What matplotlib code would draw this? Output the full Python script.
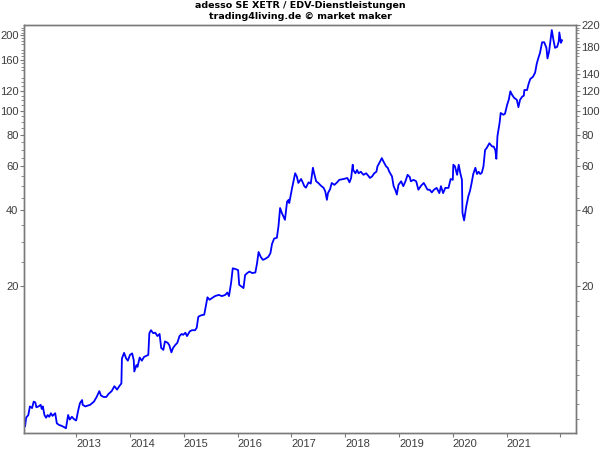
#!/usr/bin/env python3

from __future__ import annotations

import matplotlib

matplotlib.use("Agg")
import matplotlib.pyplot as plt
from matplotlib.ticker import FixedLocator, NullFormatter

TITLE = "adesso SE XETR / EDV-Dienstleistungen\ntrading4living.de \u00a9 market maker"

# decimal year, price
DATES = [
    2012.05, 2012.07, 2012.11, 2012.14, 2012.18, 2012.21, 2012.24, 2012.26, 2012.30, 2012.34,
    2012.36, 2012.38, 2012.41, 2012.44, 2012.47, 2012.50, 2012.53, 2012.56, 2012.61, 2012.64,
    2012.68, 2012.73, 2012.78, 2012.81, 2012.85, 2012.88, 2012.92, 2012.96, 2013.00, 2013.04,
    2013.07, 2013.11, 2013.12, 2013.17, 2013.26, 2013.33, 2013.38, 2013.43, 2013.46, 2013.51,
    2013.56, 2013.60, 2013.66, 2013.71, 2013.76, 2013.80, 2013.84, 2013.85, 2013.89, 2013.93,
    2013.96, 2014.00, 2014.04, 2014.07, 2014.08, 2014.12, 2014.14, 2014.18, 2014.22, 2014.26,
    2014.34, 2014.36, 2014.39, 2014.43, 2014.47, 2014.51, 2014.55, 2014.58, 2014.62, 2014.65,
    2014.70, 2014.73, 2014.77, 2014.80, 2014.84, 2014.88, 2014.92, 2014.96, 2014.99, 2015.03,
    2015.06, 2015.11, 2015.15, 2015.21, 2015.24, 2015.27, 2015.32, 2015.38, 2015.42, 2015.44,
    2015.48, 2015.52, 2015.58, 2015.65, 2015.71, 2015.77, 2015.81, 2015.84, 2015.88, 2015.91,
    2015.97, 2016.01, 2016.03, 2016.07, 2016.11, 2016.14, 2016.18, 2016.22, 2016.27, 2016.33,
    2016.36, 2016.39, 2016.43, 2016.47, 2016.51, 2016.57, 2016.61, 2016.64, 2016.68, 2016.73,
    2016.76, 2016.79, 2016.82, 2016.85, 2016.88, 2016.92, 2016.95, 2016.96, 2017.01, 2017.04,
    2017.07, 2017.10, 2017.13, 2017.18, 2017.21, 2017.24, 2017.27, 2017.32, 2017.36, 2017.40,
    2017.42, 2017.46, 2017.50, 2017.55, 2017.60, 2017.63, 2017.66, 2017.68, 2017.72, 2017.75,
    2017.80, 2017.85, 2017.89, 2017.97, 2018.04, 2018.08, 2018.11, 2018.14, 2018.15, 2018.19,
    2018.22, 2018.25, 2018.29, 2018.34, 2018.39, 2018.43, 2018.46, 2018.50, 2018.54, 2018.58,
    2018.60, 2018.65, 2018.68, 2018.71, 2018.76, 2018.79, 2018.82, 2018.87, 2018.90, 2018.93,
    2018.96, 2018.99, 2019.04, 2019.08, 2019.12, 2019.16, 2019.20, 2019.22, 2019.27, 2019.32,
    2019.36, 2019.41, 2019.46, 2019.49, 2019.53, 2019.57, 2019.61, 2019.65, 2019.70, 2019.75,
    2019.78, 2019.82, 2019.86, 2019.92, 2019.96, 2020.00, 2020.01, 2020.04, 2020.08, 2020.11,
    2020.14, 2020.17, 2020.18, 2020.21, 2020.25, 2020.29, 2020.32, 2020.35, 2020.38, 2020.42,
    2020.45, 2020.48, 2020.51, 2020.54, 2020.57, 2020.60, 2020.63, 2020.68, 2020.73, 2020.76,
    2020.79, 2020.81, 2020.83, 2020.87, 2020.89, 2020.94, 2020.97, 2021.01, 2021.04, 2021.07,
    2021.10, 2021.14, 2021.19, 2021.22, 2021.25, 2021.29, 2021.32, 2021.33, 2021.38, 2021.41,
    2021.44, 2021.49, 2021.53, 2021.56, 2021.59, 2021.62, 2021.66, 2021.70, 2021.74, 2021.76,
    2021.79, 2021.81, 2021.84, 2021.87, 2021.90, 2021.94, 2021.97, 2021.98, 2022.01, 2022.03,
]

PRICES = [
    5.5, 5.95, 6.1, 6.6, 6.5, 6.9, 6.85, 6.55, 6.6, 6.7,
    6.45, 6.6, 6.1, 5.95, 6.1, 6.0, 6.2, 6.05, 6.2, 5.65,
    5.57, 5.52, 5.45, 5.4, 6.1, 5.85, 6.0, 5.87, 5.8, 6.4,
    6.8, 7.0, 6.7, 6.6, 6.7, 6.9, 7.2, 7.6, 7.3, 7.2,
    7.2, 7.4, 7.6, 7.95, 7.7, 7.95, 8.15, 10.25, 10.8, 10.25,
    10.05, 10.6, 10.75, 10.1, 9.1, 9.65, 9.5, 10.35, 10.05, 10.4,
    10.6, 12.95, 13.3, 12.95, 13.0, 12.6, 12.85, 11.3, 11.1, 12.0,
    11.85, 11.6, 10.85, 11.3, 11.6, 11.85, 12.6, 12.85, 12.75, 13.0,
    12.6, 13.15, 13.3, 13.3, 13.6, 15.05, 15.25, 15.35, 17.05, 18.0,
    17.6, 17.85, 18.2, 18.4, 18.2, 18.4, 18.8, 18.2, 20.6, 23.5,
    23.3, 23.1, 20.2, 19.9, 19.6, 22.1, 22.5, 22.8, 22.5, 22.6,
    24.5, 27.3, 26.1, 25.4, 25.6, 26.1, 27.0, 29.4, 30.9, 31.1,
    34.6, 40.9, 39.2, 37.9, 36.7, 43.4, 44.1, 42.8, 48.8, 52.3,
    56.3, 54.7, 51.5, 53.4, 51.8, 50.0, 49.3, 51.8, 51.2, 59.2,
    56.6, 52.3, 51.5, 50.2, 49.2, 47.6, 44.1, 46.9, 48.7, 51.5,
    50.6, 51.8, 53.0, 53.4, 53.9, 51.8, 53.9, 60.9, 58.0, 56.3,
    58.0, 56.3, 57.1, 55.5, 56.3, 55.0, 53.9, 54.7, 56.3, 57.1,
    60.0, 62.8, 64.7, 62.8, 60.0, 59.2, 57.1, 54.7, 50.0, 48.4,
    46.3, 50.6, 52.3, 50.0, 52.3, 55.5, 54.4, 52.3, 53.0, 52.3,
    48.4, 50.2, 51.5, 50.2, 48.4, 48.4, 47.2, 48.4, 49.2, 46.9,
    50.0, 46.9, 49.2, 49.2, 53.4, 53.0, 60.9, 60.0, 55.5, 60.9,
    56.3, 53.0, 39.1, 36.5, 41.5, 45.7, 47.9, 51.5, 55.9, 59.2,
    55.9, 57.1, 55.9, 56.6, 60.0, 69.7, 71.0, 74.2, 72.0, 72.0,
    69.7, 64.3, 79.2, 89.5, 98.0, 96.4, 97.3, 105.6, 110.6, 119.6,
    116.0, 112.6, 110.6, 103.4, 110.6, 113.9, 114.8, 121.0, 121.0, 128.2,
    133.9, 136.7, 142.0, 154.0, 162.4, 170.0, 187.7, 187.7, 178.3, 161.8,
    172.5, 186.7, 210.0, 192.2, 178.3, 180.0, 189.5, 205.5, 186.7, 191.1,
]

YEAR_TICKS = [2013, 2014, 2015, 2016, 2017, 2018, 2019, 2020, 2021, 2022]
YEAR_LABELS = ["2013", "2014", "2015", "2016", "2017", "2018", "2019", "2020", "2021", ""]

LEFT_TICKS = [20, 40, 60, 80, 100, 120, 160, 200]
RIGHT_TICKS = [20, 40, 60, 80, 100, 120, 140, 180, 220]
MINOR_TICKS = [v for v in range(25, 220, 5) if v not in (40, 60, 80, 100, 120, 140, 160, 180, 200)]
LOW_TICKS = [17.4, 15.2, 13.3, 11.6, 10.1, 8.85, 7.7, 6.75, 5.9]

Y_MIN, Y_MAX = 5.17, 220
X_MIN, X_MAX = 2012.03, 2022.29

AXIS_GREY = "#7a7a7a"
TEXT_GREY = "#3c3c3c"
TICK_FONT = "Liberation Sans"


def style_axis(ax) -> None:
    for spine in ax.spines.values():
        spine.set_color(AXIS_GREY)
        spine.set_linewidth(1.0)
    ax.tick_params(axis="y", which="major", direction="out", length=3, width=0.8,
                   colors=AXIS_GREY, labelcolor=TEXT_GREY, labelsize=8, pad=1)
    ax.tick_params(axis="y", which="minor", direction="out", length=2, width=0.6,
                   colors=AXIS_GREY)
    for label in ax.get_yticklabels():
        label.set_fontfamily(TICK_FONT)


def main() -> None:
    fig = plt.figure(figsize=(6, 4.5), dpi=100)
    ax = fig.add_axes([0.04, 1 - 433 / 450, 0.92, (433 - 25) / 450])

    ax.plot(DATES, PRICES, color="#0000ff", linewidth=1.3)
    ax.set_yscale("log")
    ax.set_ylim(Y_MIN, Y_MAX)
    ax.set_xlim(X_MIN, X_MAX)

    ax.set_xticks(YEAR_TICKS)
    ax.set_xticklabels(YEAR_LABELS, ha="left", fontfamily=TICK_FONT)
    ax.tick_params(axis="x", direction="out", length=3, width=0.8, colors=AXIS_GREY,
                   labelcolor=TEXT_GREY, labelsize=8, pad=1)

    ax.yaxis.set_major_locator(FixedLocator(LEFT_TICKS))
    ax.yaxis.set_minor_locator(FixedLocator(MINOR_TICKS))
    ax.set_yticklabels([str(v) for v in LEFT_TICKS])
    ax.yaxis.set_minor_formatter(NullFormatter())
    style_axis(ax)

    ax2 = ax.twinx()
    ax2.set_yscale("log")
    ax2.set_ylim(Y_MIN, Y_MAX)
    ax2.yaxis.set_major_locator(FixedLocator(RIGHT_TICKS))
    ax2.yaxis.set_minor_locator(FixedLocator(MINOR_TICKS + LOW_TICKS))
    ax2.set_yticklabels([str(v) for v in RIGHT_TICKS])
    ax2.yaxis.set_minor_formatter(NullFormatter())
    style_axis(ax2)

    fig.suptitle(TITLE, y=0.997, fontsize=6.8, fontweight="bold", color="#000000",
                 linespacing=1.3)

    fig.savefig("out.png", dpi=100, facecolor="white")
    plt.close(fig)


if __name__ == "__main__":
    main()
